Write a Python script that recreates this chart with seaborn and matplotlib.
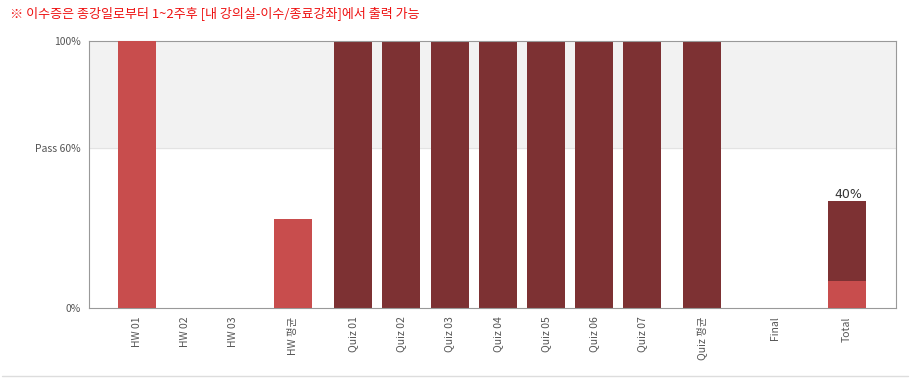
import matplotlib
matplotlib.use("Agg")
import matplotlib.pyplot as plt
import seaborn as sns
import pandas as pd

sns.set_theme(style="white")
plt.rcParams['font.family'] = ['Noto Sans CJK KR', 'DejaVu Sans']

# Data
categories = ["HW 01", "HW 02", "HW 03", "HW 평균", "Quiz 01", "Quiz 02", "Quiz 03",
              "Quiz 04", "Quiz 05", "Quiz 06", "Quiz 07", "Quiz 평균", "Final", "Total"]
hw_values = [100, 0, 0, 33.3, 0, 0, 0, 0, 0, 0, 0, 0, 0, 10]
quiz_values = [0, 0, 0, 0, 100, 100, 100, 100, 100, 100, 100, 100, 0, 40]
y_tick_values = [0, 60, 100]
y_tick_labels = ["0%", "Pass 60%", "100%"]
total_label = "40%"
title = "※ 이수증은 종강일로부터 1~2주후 [내 강의실-이수/종료강좌]에서 출력 가능"

# Layout (slot centres along the axis, in px-like units)
slots = [137, 185, 233, 293, 353, 401, 449.5, 497.7, 545.7, 594, 642, 702, 775, 846.7]

df = pd.DataFrame({"pos": slots, "cat": categories, "hw": hw_values, "quiz": quiz_values})

fig = plt.figure(figsize=(9.1, 3.8), dpi=100)
ax = fig.add_axes([89 / 910, 1 - 308 / 380, 807 / 910, 267 / 380])

ax.axhspan(60, 100, color="#f2f2f2", zorder=0)
ax.axhline(60, color="#e3e3e3", lw=0.8, zorder=0.5)

dark = "#7d3133"
light = "#c84d4d"
bw = 38 / 48
sns.barplot(data=df, x="pos", y="quiz", native_scale=True, width=bw,
            color=dark, saturation=1, linewidth=0, edgecolor="none", ax=ax, zorder=2)
sns.barplot(data=df, x="pos", y="hw", native_scale=True, width=bw,
            color=light, saturation=1, linewidth=0, edgecolor="none", ax=ax, zorder=3)

ax.set_xlim(89, 896)
ax.set_ylim(0, 100)
ax.set_xticks(slots)
ax.set_xticklabels(categories, rotation=90, fontsize=7.5, color="#555555")
ax.set_yticks(y_tick_values)
ax.set_yticklabels(y_tick_labels, fontsize=7.5, color="#555555")
ax.tick_params(axis="both", length=0, pad=6)
ax.set_xlabel("")
ax.set_ylabel("")
for s in ax.spines.values():
    s.set_color("#999999")
    s.set_linewidth(0.8)
    s.set_visible(True)

ax.text(slots[-1] + 2, quiz_values[-1] + 0.2, total_label, ha="center", va="bottom",
        fontsize=9, color="#333333", family=['DejaVu Sans'])

fig.text(10 / 910, 1 - 13 / 380, title, fontsize=9.4, color="#ee1111", va="center", ha="left")
fig.add_artist(plt.Line2D([2 / 910, 908 / 910], [1 - 376 / 380] * 2, color="#dddddd", lw=1))

fig.savefig("out.png", dpi=100)
